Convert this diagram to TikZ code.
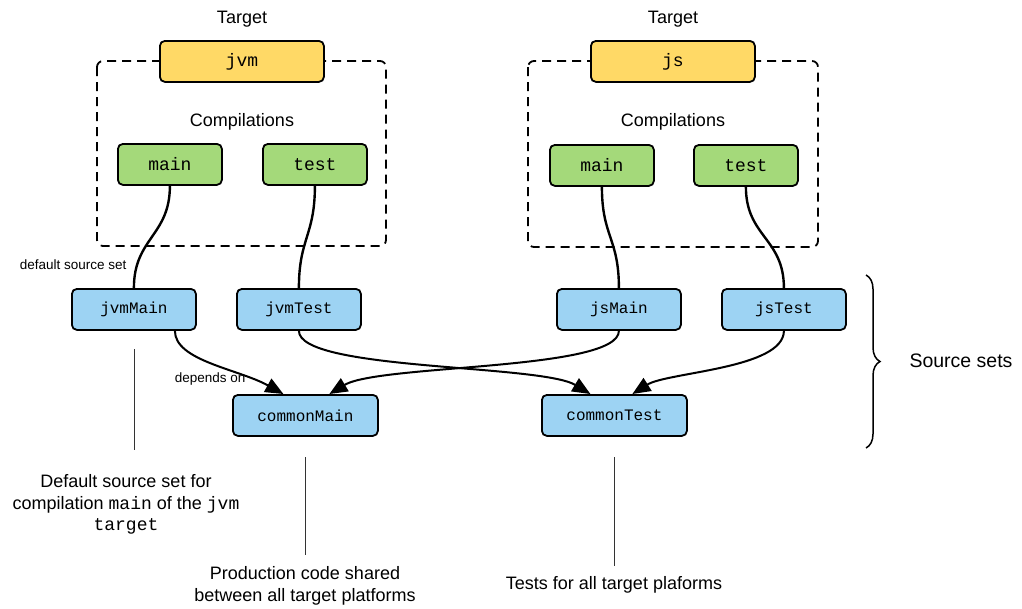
\documentclass[tikz,border=0pt]{standalone}
\usepackage{fontspec}
\setmainfont{Liberation Sans}
\setmonofont{Liberation Mono}
\usetikzlibrary{arrows.meta,decorations.pathreplacing}
\definecolor{targetfill}{HTML}{FFD966}
\definecolor{compfill}{HTML}{A4D97A}
\definecolor{setfill}{HTML}{9DD3F3}
\definecolor{guide}{HTML}{333333}
\tikzset{
  box/.style={draw=black, line width=1.8pt, rounded corners=5pt, minimum height=41pt, inner sep=0pt, anchor=north west},
  targetbox/.style={box, fill=targetfill, minimum width=164pt, font=\fontsize{18}{20}\selectfont\ttfamily},
  compbox/.style={box, fill=compfill, minimum width=104pt, font=\fontsize{18}{20}\selectfont\ttfamily},
  setbox/.style={box, fill=setfill, minimum width=124pt, font=\fontsize{16}{18}\selectfont\ttfamily},
  commonbox/.style={setbox, minimum width=145pt},
  dashbox/.style={draw=black, line width=1.8pt, dash pattern=on 9pt off 6pt, rounded corners=6pt},
  link/.style={draw=black, line width=2.4pt},
  dep/.style={draw=black, line width=2pt, -{Triangle[length=18pt,width=15pt]}},
  guideline/.style={draw=guide, line width=1pt},
  title/.style={font=\fontsize{18}{21}\selectfont},
  small/.style={font=\fontsize{13.5}{16}\selectfont},
  note/.style={font=\fontsize{18}{21.5}\selectfont, align=center},
}
\begin{document}
\begin{tikzpicture}[x=1pt, y=-1pt]
\useasboundingbox (0,0) rectangle (1022,608);

% target frames
\draw[dashbox] (97,61) rectangle (386,246);
\draw[dashbox] (528,61) rectangle (818,247);

% targets
\node[title] (tjvm) at (242,19) {Target};
\node[title] (tjs) at (673,19) {Target};
\node[targetbox] (jvm) at (159,40) {jvm};
\node[targetbox] (js) at (590,40) {js};
\node[title] (cjvm) at (242,122) {Compilations};
\node[title] (cjs) at (673,122) {Compilations};

% compilations
\node[compbox] (jvmmaincomp) at (117,143) {main};
\node[compbox] (jvmtestcomp) at (262,143) {test};
\node[compbox] (jsmaincomp) at (549,144) {main};
\node[compbox] (jstestcomp) at (693,144) {test};

% source sets
\node[setbox] (jvmMain) at (71,288) {jvmMain};
\node[setbox] (jvmTest) at (236,288) {jvmTest};
\node[setbox] (jsMain) at (556,288) {jsMain};
\node[setbox] (jsTest) at (721,288) {jsTest};
\node[commonbox] (commonMain) at (232,394) {commonMain};
\node[commonbox] (commonTest) at (541,394) {commonTest};

% compilation -> default source set
\draw[link] (jvmmaincomp.south) .. controls +(0,50) and +(0,-50) .. (jvmMain.north);
\draw[link] (jvmtestcomp.south) .. controls +(0,50) and +(0,-50) .. (jvmTest.north);
\draw[link] (jsmaincomp.south) .. controls +(0,50) and +(0,-50) .. (jsMain.north);
\draw[link] (jstestcomp.south) .. controls +(0,50) and +(0,-50) .. (jsTest.north);

% dependencies
\draw[dep] ([xshift=41pt]jvmMain.south) .. controls +(0,30) and +(-45,-25) .. ([xshift=-22pt]commonMain.north);
\draw[dep] (jvmTest.south) .. controls +(0,40) and +(-50,-30) .. ([xshift=-24pt]commonTest.north);
\draw[dep] (jsMain.south) .. controls +(0,40) and +(50,-30) .. ([xshift=24pt]commonMain.north);
\draw[dep] (jsTest.south) .. controls +(0,38) and +(35,-22) .. ([xshift=18pt]commonTest.north);

\node[small, anchor=east] (dss) at (130,265) {default source set};
\node[small, anchor=east] (dep) at (249,379) {depends on};

% brace grouping the source sets
\draw[line width=1.5pt, decorate, decoration={brace, amplitude=14pt}] (866,275) -- (866,448);
\node[font=\fontsize{19.5}{22}\selectfont, anchor=west] (ss) at (906,361) {Source sets};

% annotations
\coordinate (g1a) at (134,349); \coordinate (g1b) at (134,450);
\coordinate (g2a) at (305,457); \coordinate (g2b) at (305,555);
\coordinate (g3a) at (614,457); \coordinate (g3b) at (614,566);
\draw[guideline] (g1a) -- (g1b);
\draw[guideline] (g2a) -- (g2b);
\draw[guideline] (g3a) -- (g3b);
\node[note, anchor=north] (n1) at (126,471) {Default source set for\\compilation \texttt{main} of the \texttt{jvm}\\\texttt{target}};
\node[note, anchor=north] (n2) at (305,563) {Production code shared\\between all target platforms};
\node[note, anchor=north] (n3) at (614,573) {Tests for all target plaforms};
\end{tikzpicture}
\end{document}
